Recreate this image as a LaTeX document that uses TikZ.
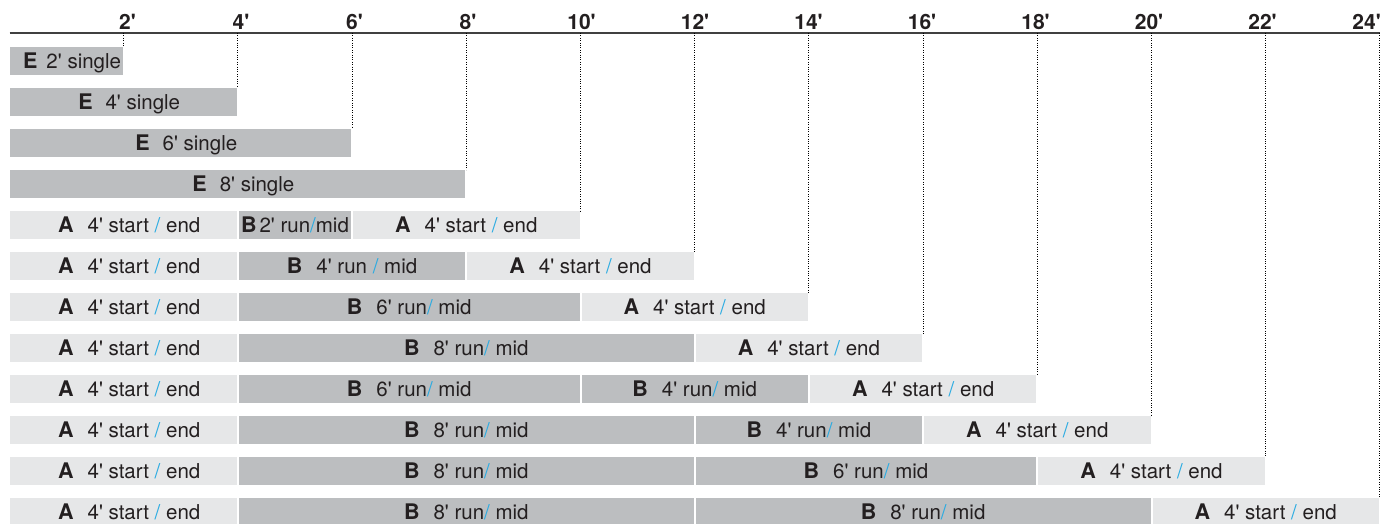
\documentclass[tikz,border=0pt]{standalone}
\usepackage{fontspec}
\setmainfont{TeX Gyre Heros}
\definecolor{txt}{HTML}{231F20}
\definecolor{lightfill}{HTML}{E6E7E8}
\definecolor{darkfill}{HTML}{BCBEC0}
\definecolor{slashc}{HTML}{29ABE2}
\definecolor{axisc}{HTML}{404040}
\newcommand\ftq{\textquotesingle}
\newcommand\blsl{\textcolor{slashc}{/}}
\newcommand\lett[1]{{\fontsize{21.5}{22}\selectfont\bfseries #1}}
\newcommand\Atext{\lett{A}\hspace{14pt}4\ftq{} start \blsl{} end}
\newcommand\segnode[6]{%
  \pgfmathsetmacro\segL{(#3==0) ? 9.5 : 9.5+57.1*#3+1}%
  \pgfmathsetmacro\segR{9.5+57.1*#4-1}%
  \pgfmathsetmacro\segW{\segR-\segL}%
  \pgfmathsetmacro\segC{(\segL+\segR)/2}%
  \pgfmathsetmacro\segY{61+41*(#5-1)}%
  \node[#2, minimum width=\segW pt] (#1) at (\segC,\segY) {\ifnum#3=0 \hspace*{12pt}\fi#6};}
\tikzset{
  seg/.style={inner sep=0pt, minimum height=28pt, text height=18pt, text depth=3pt,
    text=txt, font=\fontsize{20.5}{21}\selectfont},
  lightbox/.style={seg, fill=lightfill},
  darkbox/.style={seg, fill=darkfill},
  axlab/.style={inner sep=0pt, anchor=base, text=txt, font=\fontsize{21}{22}\selectfont\bfseries},
  axisline/.style={draw=axisc, line width=1.5pt},
  dotline/.style={draw=black, line width=1.1pt, dash pattern=on 1pt off 1.4pt}
}
\begin{document}
\begin{tikzpicture}[x=1pt,y=-1pt]
\useasboundingbox (0,0) rectangle (1392,524);
% axis
\coordinate (ax0) at (9.5,33);
\coordinate (ax24) at (1380,33);
\draw[axisline] (ax0) -- (ax24);
\foreach \f in {2,4,...,24} {
  \pgfmathsetmacro\tx{9.5+57.1*\f}
  \coordinate (t\f) at (\tx,33);
}
\foreach \f in {2,4,...,22} {
  \pgfmathsetmacro\lx{9.5+57.1*\f+4.5-0.35*\f}
  \node[axlab] (l\f) at (\lx,30) {\f\ftq};
}
\node[axlab, anchor=base east] (l24) at (1381,30) {24\ftq};
% rows
\segnode{e1}{darkbox}{0}{2}{1}{\lett{E}\hspace{9pt}2\ftq{} single}
\segnode{e2}{darkbox}{0}{4}{2}{\lett{E}\hspace{13pt}4\ftq{} single}
\segnode{e3}{darkbox}{0}{6}{3}{\lett{E}\hspace{13pt}6\ftq{} single}
\segnode{e4}{darkbox}{0}{8}{4}{\lett{E}\hspace{13pt}8\ftq{} single}
%
\segnode{r5a}{lightbox}{0}{4}{5}{\Atext}
\segnode{r5b}{darkbox}{4}{6}{5}{\lett{B}\hspace{3pt}2\ftq{} run\blsl mid}
\segnode{e5}{lightbox}{6}{10}{5}{\Atext}
%
\segnode{r6a}{lightbox}{0}{4}{6}{\Atext}
\segnode{r6b}{darkbox}{4}{8}{6}{\lett{B}\hspace{14pt}4\ftq{} run \blsl{} mid}
\segnode{e6}{lightbox}{8}{12}{6}{\Atext}
%
\segnode{r7a}{lightbox}{0}{4}{7}{\Atext}
\segnode{r7b}{darkbox}{4}{10}{7}{\lett{B}\hspace{14pt}6\ftq{} run\blsl{} mid}
\segnode{e7}{lightbox}{10}{14}{7}{\Atext}
%
\segnode{r8a}{lightbox}{0}{4}{8}{\Atext}
\segnode{r8b}{darkbox}{4}{12}{8}{\lett{B}\hspace{14pt}8\ftq{} run\blsl{} mid}
\segnode{e8}{lightbox}{12}{16}{8}{\Atext}
%
\segnode{r9a}{lightbox}{0}{4}{9}{\Atext}
\segnode{r9b}{darkbox}{4}{10}{9}{\lett{B}\hspace{14pt}6\ftq{} run\blsl{} mid}
\segnode{r9c}{darkbox}{10}{14}{9}{\lett{B}\hspace{14pt}4\ftq{} run\blsl{} mid}
\segnode{e9}{lightbox}{14}{18}{9}{\Atext}
%
\segnode{r10a}{lightbox}{0}{4}{10}{\Atext}
\segnode{r10b}{darkbox}{4}{12}{10}{\lett{B}\hspace{14pt}8\ftq{} run\blsl{} mid}
\segnode{r10c}{darkbox}{12}{16}{10}{\lett{B}\hspace{14pt}4\ftq{} run\blsl{} mid}
\segnode{e10}{lightbox}{16}{20}{10}{\Atext}
%
\segnode{r11a}{lightbox}{0}{4}{11}{\Atext}
\segnode{r11b}{darkbox}{4}{12}{11}{\lett{B}\hspace{14pt}8\ftq{} run\blsl{} mid}
\segnode{r11c}{darkbox}{12}{18}{11}{\lett{B}\hspace{14pt}6\ftq{} run\blsl{} mid}
\segnode{e11}{lightbox}{18}{22}{11}{\Atext}
%
\segnode{r12a}{lightbox}{0}{4}{12}{\Atext}
\segnode{r12b}{darkbox}{4}{12}{12}{\lett{B}\hspace{14pt}8\ftq{} run\blsl{} mid}
\segnode{r12c}{darkbox}{12}{20}{12}{\lett{B}\hspace{14pt}8\ftq{} run\blsl{} mid}
\segnode{e12}{lightbox}{20}{24}{12}{\Atext}
% dotted guides
\foreach \i in {1,...,12} {
  \pgfmathtruncatemacro\f{2*\i}
  \draw[dotline] (t\f) -- (t\f |- e\i.north);
}
\end{tikzpicture}
\end{document}
